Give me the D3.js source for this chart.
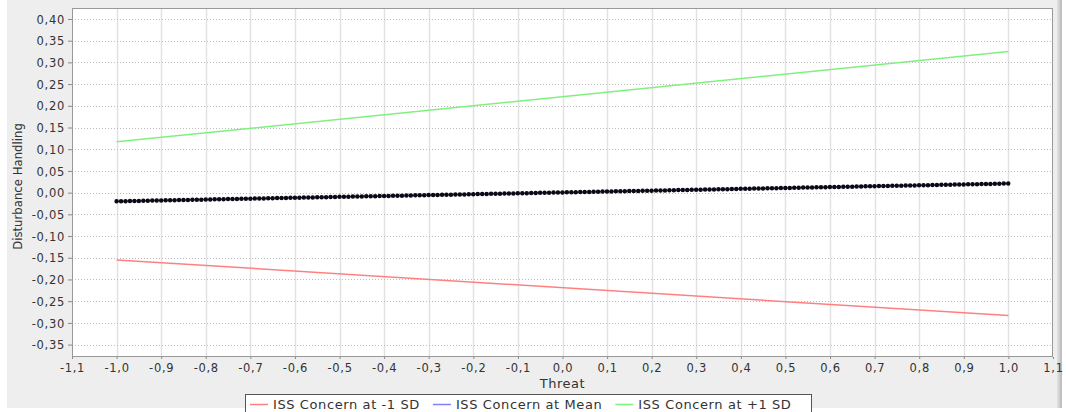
<!DOCTYPE html>
<html><head><meta charset="utf-8">
<script src="https://cdn.jsdelivr.net/npm/d3@7"></script>
<style>
html,body{margin:0;padding:0;background:#fff;}
svg{display:block;}
text{font-family:"DejaVu Sans",sans-serif;fill:#333;}
</style></head>
<body>
<svg id="c" width="1066" height="412"></svg>
<script>
// ---- data ----
const xTicks = [-1.1,-1.0,-0.9,-0.8,-0.7,-0.6,-0.5,-0.4,-0.3,-0.2,-0.1,0.0,0.1,0.2,0.3,0.4,0.5,0.6,0.7,0.8,0.9,1.0,1.1];
const yTicks = [-0.35,-0.30,-0.25,-0.20,-0.15,-0.10,-0.05,0.00,0.05,0.10,0.15,0.20,0.25,0.30,0.35,0.40];
const threat = [-1.0, 1.0];
const concernLow  = [-0.155, -0.283];
const concernMean = [-0.020, 0.021];
const concernHigh = [0.117, 0.325];
const seriesNames = ["ISS Concern at -1 SD","ISS Concern at Mean","ISS Concern at +1 SD"];
const seriesColors = ["#ff8080","#8080ff","#80f080"];
const xDomain = [-1.1, 1.1];
const yDomain = [-0.3786, 0.4253];

const svg = d3.select("#c");
const L=72, R=1053, T=8, B=357;
const x = d3.scaleLinear().domain(xDomain).range([L,R]);
const y = d3.scaleLinear().domain(yDomain).range([B,T]);
const fmt = (d,p)=> d3.format("."+p+"f")(d).replace("−","-").replace(".",",");

// panel
svg.append("rect").attr("x",7).attr("y",0).attr("width",1051).attr("height",408).attr("fill","#eeeeee");
const grad = svg.append("defs").append("linearGradient").attr("id","g1");
grad.append("stop").attr("offset","0").attr("stop-color","#e4e4e4");
grad.append("stop").attr("offset","1").attr("stop-color","#b8b8b8");
svg.append("rect").attr("x",1057).attr("y",0).attr("width",5).attr("height",408).attr("fill","url(#g1)");

// plot area
svg.append("rect").attr("x",L).attr("y",T).attr("width",R-L).attr("height",B-T).attr("fill","#fff");

// grid
svg.append("g").selectAll("line").data(xTicks.slice(1,-1)).join("line")
  .attr("x1",d=>Math.round(x(d))+0.5).attr("x2",d=>Math.round(x(d))+0.5).attr("y1",T).attr("y2",B)
  .attr("stroke","#e2e2e2").attr("stroke-width",1.5);
svg.append("g").selectAll("line").data(yTicks).join("line")
  .attr("y1",d=>Math.round(y(d))+0.5).attr("y2",d=>Math.round(y(d))+0.5).attr("x1",L).attr("x2",R)
  .attr("stroke","#bcbcbc").attr("stroke-width",1).attr("stroke-dasharray","1,2");

// axes
const yAxis = d3.axisLeft(y).tickValues(yTicks).tickSize(4).tickPadding(3).tickFormat(d=>fmt(d,2));
const gy = svg.append("g").attr("transform",`translate(${L},0)`).call(yAxis);
const xAxis = d3.axisBottom(x).tickValues(xTicks).tickSize(2).tickPadding(5).tickFormat(d=>fmt(d,1));
const gx = svg.append("g").attr("transform",`translate(0,${B})`).call(xAxis);
[gy,gx].forEach(g=>{
  g.select(".domain").remove();
  g.selectAll(".tick line").attr("stroke","#888");
  g.selectAll("text").attr("font-size","11.5px").attr("fill","#333")
    .style("font-family","DejaVu Sans").style("letter-spacing","0.7px");
});
gy.selectAll("text").attr("dy","0.36em");

// plot border
svg.append("rect").attr("x",L+0.5).attr("y",T+0.5).attr("width",R-L-1).attr("height",B-T-1)
  .attr("fill","none").attr("stroke","#999");

// axis titles
svg.append("text").attr("x",(L+R)/2).attr("y",388).attr("text-anchor","middle")
  .attr("font-size","13px").attr("fill","#333").style("letter-spacing","0.5px").text("Threat");
svg.append("text").attr("transform",`translate(22,${(T+B)/2 + 4}) rotate(-90)`).attr("text-anchor","middle")
  .style("font-family","'DejaVu Sans Condensed','DejaVu Sans',sans-serif").attr("font-size","13px").attr("fill","#222")
  .text("Disturbance Handling");

// lines
const line = d3.line().x(d=>x(d[0])).y(d=>y(d[1]));
const series = [concernLow, concernMean, concernHigh];
series.forEach((s,i)=>{
  svg.append("path").datum(threat.map((t,j)=>[t,s[j]])).attr("d",line)
    .attr("fill","none").attr("stroke",seriesColors[i]).attr("stroke-width",1.5);
});
// mean series point markers (drawn as a dot pattern along the series line)
const step = x(0.01)-x(0);
svg.append("path").datum(threat.map((t,j)=>[t,concernMean[j]])).attr("d",line)
  .attr("fill","none").attr("stroke","#0a0a14").attr("stroke-width",4.5)
  .attr("stroke-linecap","round").attr("stroke-dasharray",`0,${step}`);

// legend
const lg = svg.append("g");
lg.append("rect").attr("x",245.5).attr("y",394.5).attr("width",566).attr("height",22)
  .attr("fill","#fff").attr("stroke","#555");
let cx = 250;
seriesNames.forEach((n,i)=>{
  lg.append("line").attr("x1",cx).attr("x2",cx+18).attr("y1",404.5).attr("y2",404.5)
    .attr("stroke",seriesColors[i]).attr("stroke-width",1.5);
  const t = lg.append("text").attr("x",cx+23).attr("y",409).attr("font-size","13px").attr("fill","#222")
    .style("letter-spacing","0.6px").text(n);
  cx += 23 + t.node().getComputedTextLength() + 13;
});
</script>
</body></html>
